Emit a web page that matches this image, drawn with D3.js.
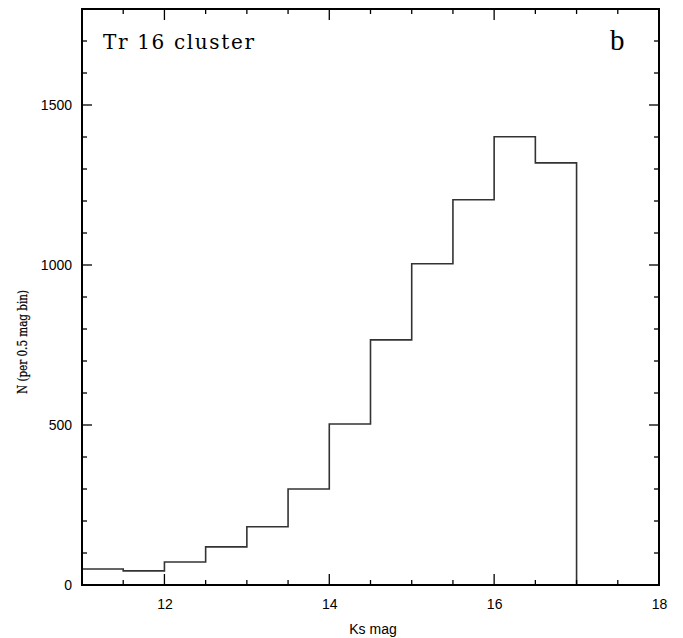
<!DOCTYPE html>
<html><head><meta charset="utf-8">
<script src="https://cdn.jsdelivr.net/npm/d3@7"></script>
<style>body{margin:0;background:#fff}</style>
</head><body>
<script>
const binStarts = [11,11.5,12,12.5,13,13.5,14,14.5,15,15.5,16,16.5];
const binWidth = 0.5;
const counts = [50,44,72,119,182,300,503,766,1004,1204,1401,1319];
const xMajorTicks = [12,14,16,18];
const yMajorTicks = [0,500,1000,1500];

const W=683,H=638;
const m={l:82,r:24,t:9,b:53};
const svg=d3.select("body").append("svg").attr("width",W).attr("height",H);
const x=d3.scaleLinear().domain([11,18]).range([m.l,W-m.r]);
const y=d3.scaleLinear().domain([0,1800]).range([H-m.b,m.t]);
const X0=x.range()[0],X1=x.range()[1],Y0=y.range()[0],Y1=y.range()[1];

// histogram step path
const pts=[];
binStarts.forEach((s,i)=>{pts.push([s,counts[i]]);pts.push([s+binWidth,counts[i]]);});
pts.push([binStarts[binStarts.length-1]+binWidth,0]);
svg.append("path").datum(pts)
 .attr("d",d3.line().x(d=>x(d[0])).y(d=>y(d[1])))
 .attr("fill","none").attr("stroke","#333").attr("stroke-width",1.6);

// minor/major ticks
const xMinor=d3.range(11,18.001,0.5);
const yMinor=d3.range(0,1800.1,100);
const tg=svg.append("g").attr("stroke","#000").attr("stroke-width",1.3);
xMinor.forEach(v=>{
  const maj=Math.abs(v/2-Math.round(v/2))<1e-6;
  const L=maj?11:5;
  tg.append("line").attr("x1",x(v)).attr("x2",x(v)).attr("y1",Y0).attr("y2",Y0-L);
  tg.append("line").attr("x1",x(v)).attr("x2",x(v)).attr("y1",Y1).attr("y2",Y1+L);
});
yMinor.forEach(v=>{
  const maj=v%500===0;
  const L=maj?10:5;
  tg.append("line").attr("x1",X0).attr("x2",X0+L).attr("y1",y(v)).attr("y2",y(v));
  tg.append("line").attr("x1",X1).attr("x2",X1-L).attr("y1",y(v)).attr("y2",y(v));
});

// frame
svg.append("rect").attr("x",X0).attr("y",Y1).attr("width",X1-X0).attr("height",Y0-Y1)
 .attr("fill","none").attr("stroke","#000").attr("stroke-width",2);

// tick labels via d3 axes (no lines)
const xa=svg.append("g").attr("transform",`translate(0,${Y0})`)
 .call(d3.axisBottom(x).tickValues(xMajorTicks).tickSize(0).tickPadding(14).tickFormat(d3.format("d")));
xa.select(".domain").remove();
xa.selectAll("text").attr("font-family","Liberation Sans, Arial, sans-serif").attr("font-size",14).attr("fill","#000");
const ya=svg.append("g").attr("transform",`translate(${X0},0)`)
 .call(d3.axisLeft(y).tickValues(yMajorTicks).tickSize(0).tickPadding(10).tickFormat(d3.format("d")));
ya.select(".domain").remove();
ya.selectAll("text").attr("font-family","Liberation Sans, Arial, sans-serif").attr("font-size",14).attr("fill","#000");

svg.append("text").attr("x",373).attr("y",634).attr("text-anchor","middle")
 .attr("font-family","Liberation Sans, Arial, sans-serif").attr("font-size",14).text("Ks mag");
svg.append("text").attr("transform","translate(27,342) rotate(-90)").attr("text-anchor","middle")
 .attr("font-family","DejaVu Serif, serif").attr("font-size",12.5)
 .attr("stroke","#000").attr("stroke-width",0.25)
 .attr("textLength",104).attr("lengthAdjust","spacingAndGlyphs").text("N (per 0.5 mag bin)");
svg.append("text").attr("x",103).attr("y",49)
 .attr("font-family","DejaVu Serif, serif").attr("font-size",20)
 .attr("textLength",151).attr("lengthAdjust","spacing").text("Tr 16 cluster");
svg.append("text").attr("x",610).attr("y",50)
 .attr("font-family","Liberation Serif, serif").attr("font-size",29).text("b");
</script>
</body></html>
